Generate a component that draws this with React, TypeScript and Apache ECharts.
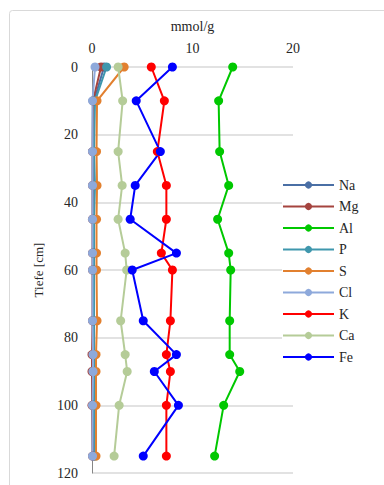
import React, { useEffect, useRef } from "react";
import * as echarts from "echarts";

const depths = [0, 10, 25, 35, 45, 55, 60, 75, 85, 90, 100, 115];
const seriesNames = ["Na", "Mg", "Al", "P", "S", "Cl", "K", "Ca", "Fe"];
const Na = [1.2, 0.2, 0.15, 0.2, 0.15, 0.15, 0.15, 0.15, 0.1, 0.1, 0.1, 0.15];
const Mg = [0.9, 0.1, 0.05, 0.05, 0.05, 0.05, 0.05, 0.05, 0.0, 0.0, 0.0, 0.05];
const Al = [14.0, 12.6, 12.7, 13.6, 12.5, 13.6, 13.8, 13.7, 13.7, 14.7, 13.1, 12.2];
const P = [1.45, 0.3, 0.2, 0.3, 0.2, 0.2, 0.2, 0.2, 0.2, 0.2, 0.2, 0.3];
const S = [3.2, 0.5, 0.45, 0.5, 0.45, 0.45, 0.45, 0.5, 0.4, 0.4, 0.4, 0.4];
const Cl = [0.3, 0.05, 0.05, 0.05, 0.05, 0.05, 0.05, 0.05, 0.1, 0.1, 0.05, 0.05];
const K = [5.9, 7.2, 6.5, 7.4, 7.4, 6.9, 8.0, 7.8, 7.4, 7.8, 7.4, 7.4];
const Ca = [2.6, 3.05, 2.6, 3.0, 2.6, 3.3, 3.45, 2.85, 3.3, 3.5, 2.7, 2.2];
const Fe = [8.0, 4.4, 6.8, 4.3, 3.8, 8.4, 4.0, 5.1, 8.4, 6.2, 8.6, 5.1];
const seriesValues = [Na, Mg, Al, P, S, Cl, K, Ca, Fe];
const colors = ["#4A6FA5", "#A5443F", "#00C800", "#3F97AD", "#E2802F", "#8EA9DB", "#FF0000", "#B5CC98", "#0000FF"];

const FONT = "'Liberation Serif', 'Times New Roman', serif";

export default function App() {
  const ref = useRef<HTMLDivElement>(null);
  useEffect(() => {
    const chart = echarts.init(ref.current!, null, { renderer: "svg" });
    chart.setOption({
      animation: false,
      backgroundColor: "#ffffff",
      textStyle: { fontFamily: FONT },
      graphic: [
        {
          type: "rect",
          shape: { x: 9.5, y: 10.5, width: 420, height: 480, r: 3 },
          style: { fill: "none", stroke: "#d9d9d9", lineWidth: 1 },
          z: 0,
        },
      ],
      grid: { left: 92, top: 67, right: 91, bottom: 12, containLabel: false },
      legend: {
        orient: "vertical",
        left: 282,
        top: 178,
        itemWidth: 51,
        itemHeight: 9,
        itemGap: 7.5,
        backgroundColor: "#ffffff",
        padding: 0,
        textStyle: { fontFamily: FONT, fontSize: 14, color: "#262626", lineHeight: 14 },
        data: seriesNames,
      },
      xAxis: {
        type: "value",
        position: "top",
        min: 0,
        max: 20,
        interval: 10,
        name: "mmol/g",
        nameLocation: "middle",
        nameGap: 34,
        nameTextStyle: { fontFamily: FONT, fontSize: 14, color: "#262626" },
        axisLine: { show: false },
        axisTick: { show: false },
        splitLine: { show: false },
        axisLabel: { fontFamily: FONT, fontSize: 14, color: "#262626", margin: 12 },
      },
      yAxis: {
        type: "value",
        inverse: true,
        min: 0,
        max: 120,
        interval: 20,
        name: "Tiefe [cm]",
        nameLocation: "middle",
        nameGap: 47,
        nameRotate: 90,
        nameTextStyle: { fontFamily: FONT, fontSize: 13, color: "#262626" },
        axisLine: { show: true, onZero: false, lineStyle: { color: "#868686", width: 1 } },
        axisTick: { show: false },
        splitLine: { show: true, lineStyle: { color: "#d9d9d9", width: 1.5 } },
        axisLabel: { fontFamily: FONT, fontSize: 14, color: "#262626", margin: 14 },
      },
      series: seriesNames.map((name, i) => ({
        name,
        type: "line",
        data: seriesValues[i].map((v, j) => [v, depths[j]]),
        symbol: "circle",
        symbolSize: 9,
        itemStyle: { color: colors[i] },
        lineStyle: { color: colors[i], width: 2 },
      })),
    });
    return () => chart.dispose();
  }, []);
  return <div ref={ref} style={{ position: "fixed", left: 0, top: 0, width: 384, height: 485 }} />;
}
